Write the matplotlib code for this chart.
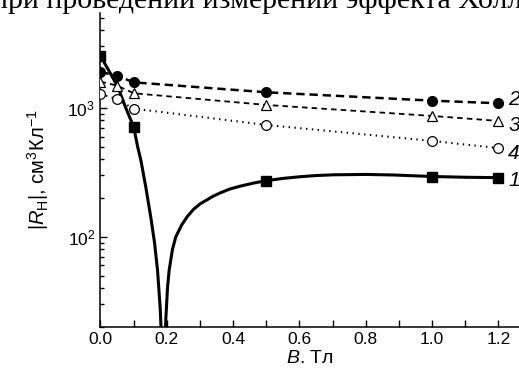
import numpy as np
import matplotlib.pyplot as plt

plt.rcParams['font.family'] = ['Liberation Sans', 'DejaVu Sans']
plt.rcParams['mathtext.fontset'] = 'custom'
plt.rcParams['mathtext.rm'] = 'Liberation Sans'
plt.rcParams['mathtext.it'] = 'Liberation Sans:italic'
plt.rcParams['lines.scale_dashes'] = False

# measured points, B in Tl, |R_H| in cm^3/C
B = [0.0, 0.05, 0.1, 0.5, 1.0, 1.2]
B1 = [0.0, 0.1, 0.5, 1.0, 1.2]
R1 = [2530, 713, 273, 293, 288]
R2 = [1900, 1780, 1580, 1323, 1139, 1087]
R3 = [1600, 1490, 1300, 1055, 867, 793]
R4 = [1284, 1167, 988, 738, 555, 488]

# fitted curve for sample 1 (goes through zero near 0.19 T)
B1_fit = [0.0, 0.025, 0.052, 0.075, 0.1, 0.112, 0.122, 0.137, 0.152, 0.163, 0.172,
          0.18, 0.184, 0.19, 0.195, 0.197, 0.202, 0.207, 0.217, 0.227, 0.245, 0.262,
          0.28, 0.3, 0.32, 0.34, 0.362, 0.39, 0.423, 0.46, 0.5, 0.55, 0.603, 0.65,
          0.703, 0.8, 0.884, 1.0, 1.1, 1.2]
R1_fit = [2530, 1950, 1463, 1020, 713, 500, 390, 240, 140, 90, 55,
          28, 16, 1, 16, 23, 40, 55, 80, 100, 124, 144,
          163, 180, 193, 207, 220, 235, 248, 261, 273, 284, 293, 299,
          303, 305, 302, 294, 290, 288]

fig = plt.figure(figsize=(5.19, 3.78), dpi=100)
ax = fig.add_axes([100 / 519, 51 / 378, 419 / 519, 314 / 378])

ax.plot(B1_fit, R1_fit, color='black', lw=2.2, zorder=2)
ax.plot(B, R2, color='black', lw=1.8, ls=(0, (6, 3.5)), zorder=2)
ax.plot(B, R3, color='black', lw=1.3, ls=(0, (4, 3)), zorder=2)
ax.plot(B, R4, color='black', lw=1.5, ls=(0, (1, 3.2)), zorder=2)

ms = 7
ax.plot(B1, R1, ls='none', marker='s', ms=ms, mfc='black', mec='black', zorder=3)
ax.plot(B, R2, ls='none', marker='o', ms=ms, mfc='black', mec='black', zorder=3)
ax.plot(B, R3, ls='none', marker='^', ms=ms + 0.5, mfc='white', mec='black', mew=0.9, zorder=3)
ax.plot(B, R4, ls='none', marker='o', ms=ms, mfc='white', mec='black', mew=0.9, zorder=3)

# curve numbers
for lab, yv, dy in [('2', R2[-1], 3), ('3', R3[-1], -3), ('4', R4[-1], -4), ('1', R1[-1], -2)]:
    ax.annotate(lab, (B[-1], yv), xytext=(7, dy), textcoords='offset points',
                fontsize=15, style='italic', va='center', ha='left', annotation_clip=False)

ax.set_yscale('log')
ax.set_xlim(-0.0015, 1.262)
ax.set_ylim(20, 5450)
ax.set_xticks([0.0, 0.2, 0.4, 0.6, 0.8, 1.0, 1.2])
ax.set_xticklabels(['0.0', '0.2', '0.4', '0.6', '0.8', '1.0', '1.2'])
ax.set_xticks(np.arange(0.1, 1.3, 0.2), minor=True)
ax.tick_params(which='both', direction='in', labelsize=12.5, width=1)
ax.tick_params(which='major', length=5)
ax.tick_params(which='minor', length=3)
ax.tick_params(axis='x', which='minor', length=5)

for s in ['top', 'right']:
    ax.spines[s].set_visible(False)
for s in ['left', 'bottom']:
    ax.spines[s].set_linewidth(1.1)

ax.set_xlabel(r'$B$. Тл', fontsize=14, labelpad=2)
ax.set_ylabel(r'$|R_{\rm H}|$, см$^3$Кл$^{-1}$', fontsize=14.5, labelpad=12)

# cut-off line of text from the page above the figure
fig.text(535 / 519, 1 - 8 / 378, 'при проведении измерений эффекта Холла',
         family='Liberation Serif', fontsize=21.5, ha='right', va='baseline')

fig.savefig('out.png', dpi=100)
